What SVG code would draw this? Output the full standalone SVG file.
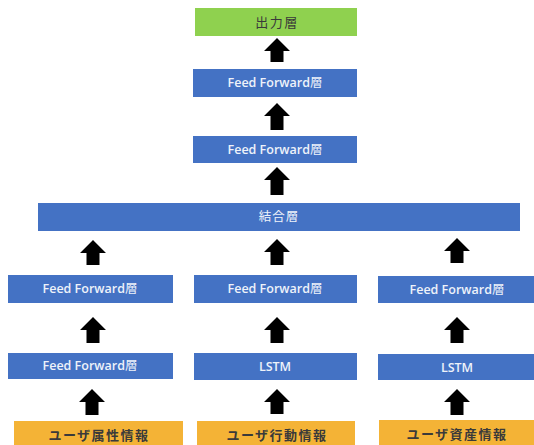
<svg xmlns="http://www.w3.org/2000/svg" width="534" height="445" viewBox="0 0 534 445">
<style>
.blue{fill:#4472C4}
.green{fill:#8FD14F}
.orange{fill:#F4B336}
.tw{fill:#EEF2FA;font-family:"Open Sans","Noto Sans CJK JP",sans-serif;font-size:12.5px;font-weight:600;text-anchor:middle}
.td{fill:#3A3A3A;font-family:"Noto Sans CJK JP",sans-serif;font-size:13px;font-weight:bold;letter-spacing:1.5px;text-anchor:middle}
.tn{font-weight:normal}
.arr{fill:#000}
</style>
<rect width="534" height="445" fill="#fff"/>
<g id="output"><rect class="green" x="195" y="8" width="162" height="28"/><text class="td tn" x="277" y="27">出力層</text></g>
<g id="ff_top2"><rect class="blue" x="193" y="69" width="164" height="28"/><text class="tw" x="275" y="87">Feed Forward<tspan class="tn">層</tspan></text></g>
<g id="ff_top1"><rect class="blue" x="193" y="136" width="164" height="27"/><text class="tw" x="275" y="154">Feed Forward<tspan class="tn">層</tspan></text></g>
<g id="concat"><rect class="blue" x="38" y="203" width="482" height="28"/><text class="tw tn" x="279" y="221" letter-spacing="1">結合層</text></g>
<g id="ff_left2"><rect class="blue" x="8" y="275" width="165" height="28"/><text class="tw" x="90" y="293">Feed Forward<tspan class="tn">層</tspan></text></g>
<g id="ff_mid"><rect class="blue" x="194" y="275" width="163" height="28"/><text class="tw" x="275" y="293">Feed Forward<tspan class="tn">層</tspan></text></g>
<g id="ff_right"><rect class="blue" x="378" y="276" width="156" height="27"/><text class="tw" x="457" y="294">Feed Forward<tspan class="tn">層</tspan></text></g>
<g id="ff_left1"><rect class="blue" x="8" y="353" width="165" height="26"/><text class="tw" x="90" y="370">Feed Forward<tspan class="tn">層</tspan></text></g>
<g id="lstm_mid"><rect class="blue" x="194" y="353" width="163" height="27"/><text class="tw" x="275" y="371">LSTM</text></g>
<g id="lstm_right"><rect class="blue" x="378" y="354" width="156" height="26"/><text class="tw" x="457" y="372">LSTM</text></g>
<g id="in_attr"><rect class="orange" x="14" y="421" width="169" height="24"/><text class="td" x="99" y="440">ユーザ属性情報</text></g>
<g id="in_action"><rect class="orange" x="197" y="421" width="158" height="24"/><text class="td" x="277" y="440">ユーザ行動情報</text></g>
<g id="in_asset"><rect class="orange" x="379" y="420" width="155" height="25"/><text class="td" x="457" y="439">ユーザ資産情報</text></g>
<g id="connectors">
<path class="arr" d="M277 38 L290 51 L283.5 51 L283.5 62 L270.5 62 L270.5 51 L264 51 Z"/>
<path class="arr" d="M277 103 L290 116 L283.5 116 L283.5 130 L270.5 130 L270.5 116 L264 116 Z"/>
<path class="arr" d="M277 167 L290 180 L283.5 180 L283.5 195 L270.5 195 L270.5 180 L264 180 Z"/>
<path class="arr" d="M93 240 L106 253 L99.5 253 L99.5 265 L86.5 265 L86.5 253 L80 253 Z"/>
<path class="arr" d="M277 239 L290 252 L283.5 252 L283.5 265 L270.5 265 L270.5 252 L264 252 Z"/>
<path class="arr" d="M457 238 L470 251 L463.5 251 L463.5 263 L450.5 263 L450.5 251 L444 251 Z"/>
<path class="arr" d="M93 317 L106 330 L99.5 330 L99.5 343 L86.5 343 L86.5 330 L80 330 Z"/>
<path class="arr" d="M277 317 L290 330 L283.5 330 L283.5 343 L270.5 343 L270.5 330 L264 330 Z"/>
<path class="arr" d="M457 317 L470 330 L463.5 330 L463.5 343 L450.5 343 L450.5 330 L444 330 Z"/>
<path class="arr" d="M92 389 L105 402 L98.5 402 L98.5 415 L85.5 415 L85.5 402 L79 402 Z"/>
<path class="arr" d="M277 389 L290 402 L283.5 402 L283.5 414 L270.5 414 L270.5 402 L264 402 Z"/>
<path class="arr" d="M457 389 L470 402 L463.5 402 L463.5 415 L450.5 415 L450.5 402 L444 402 Z"/>
</g>
</svg>
